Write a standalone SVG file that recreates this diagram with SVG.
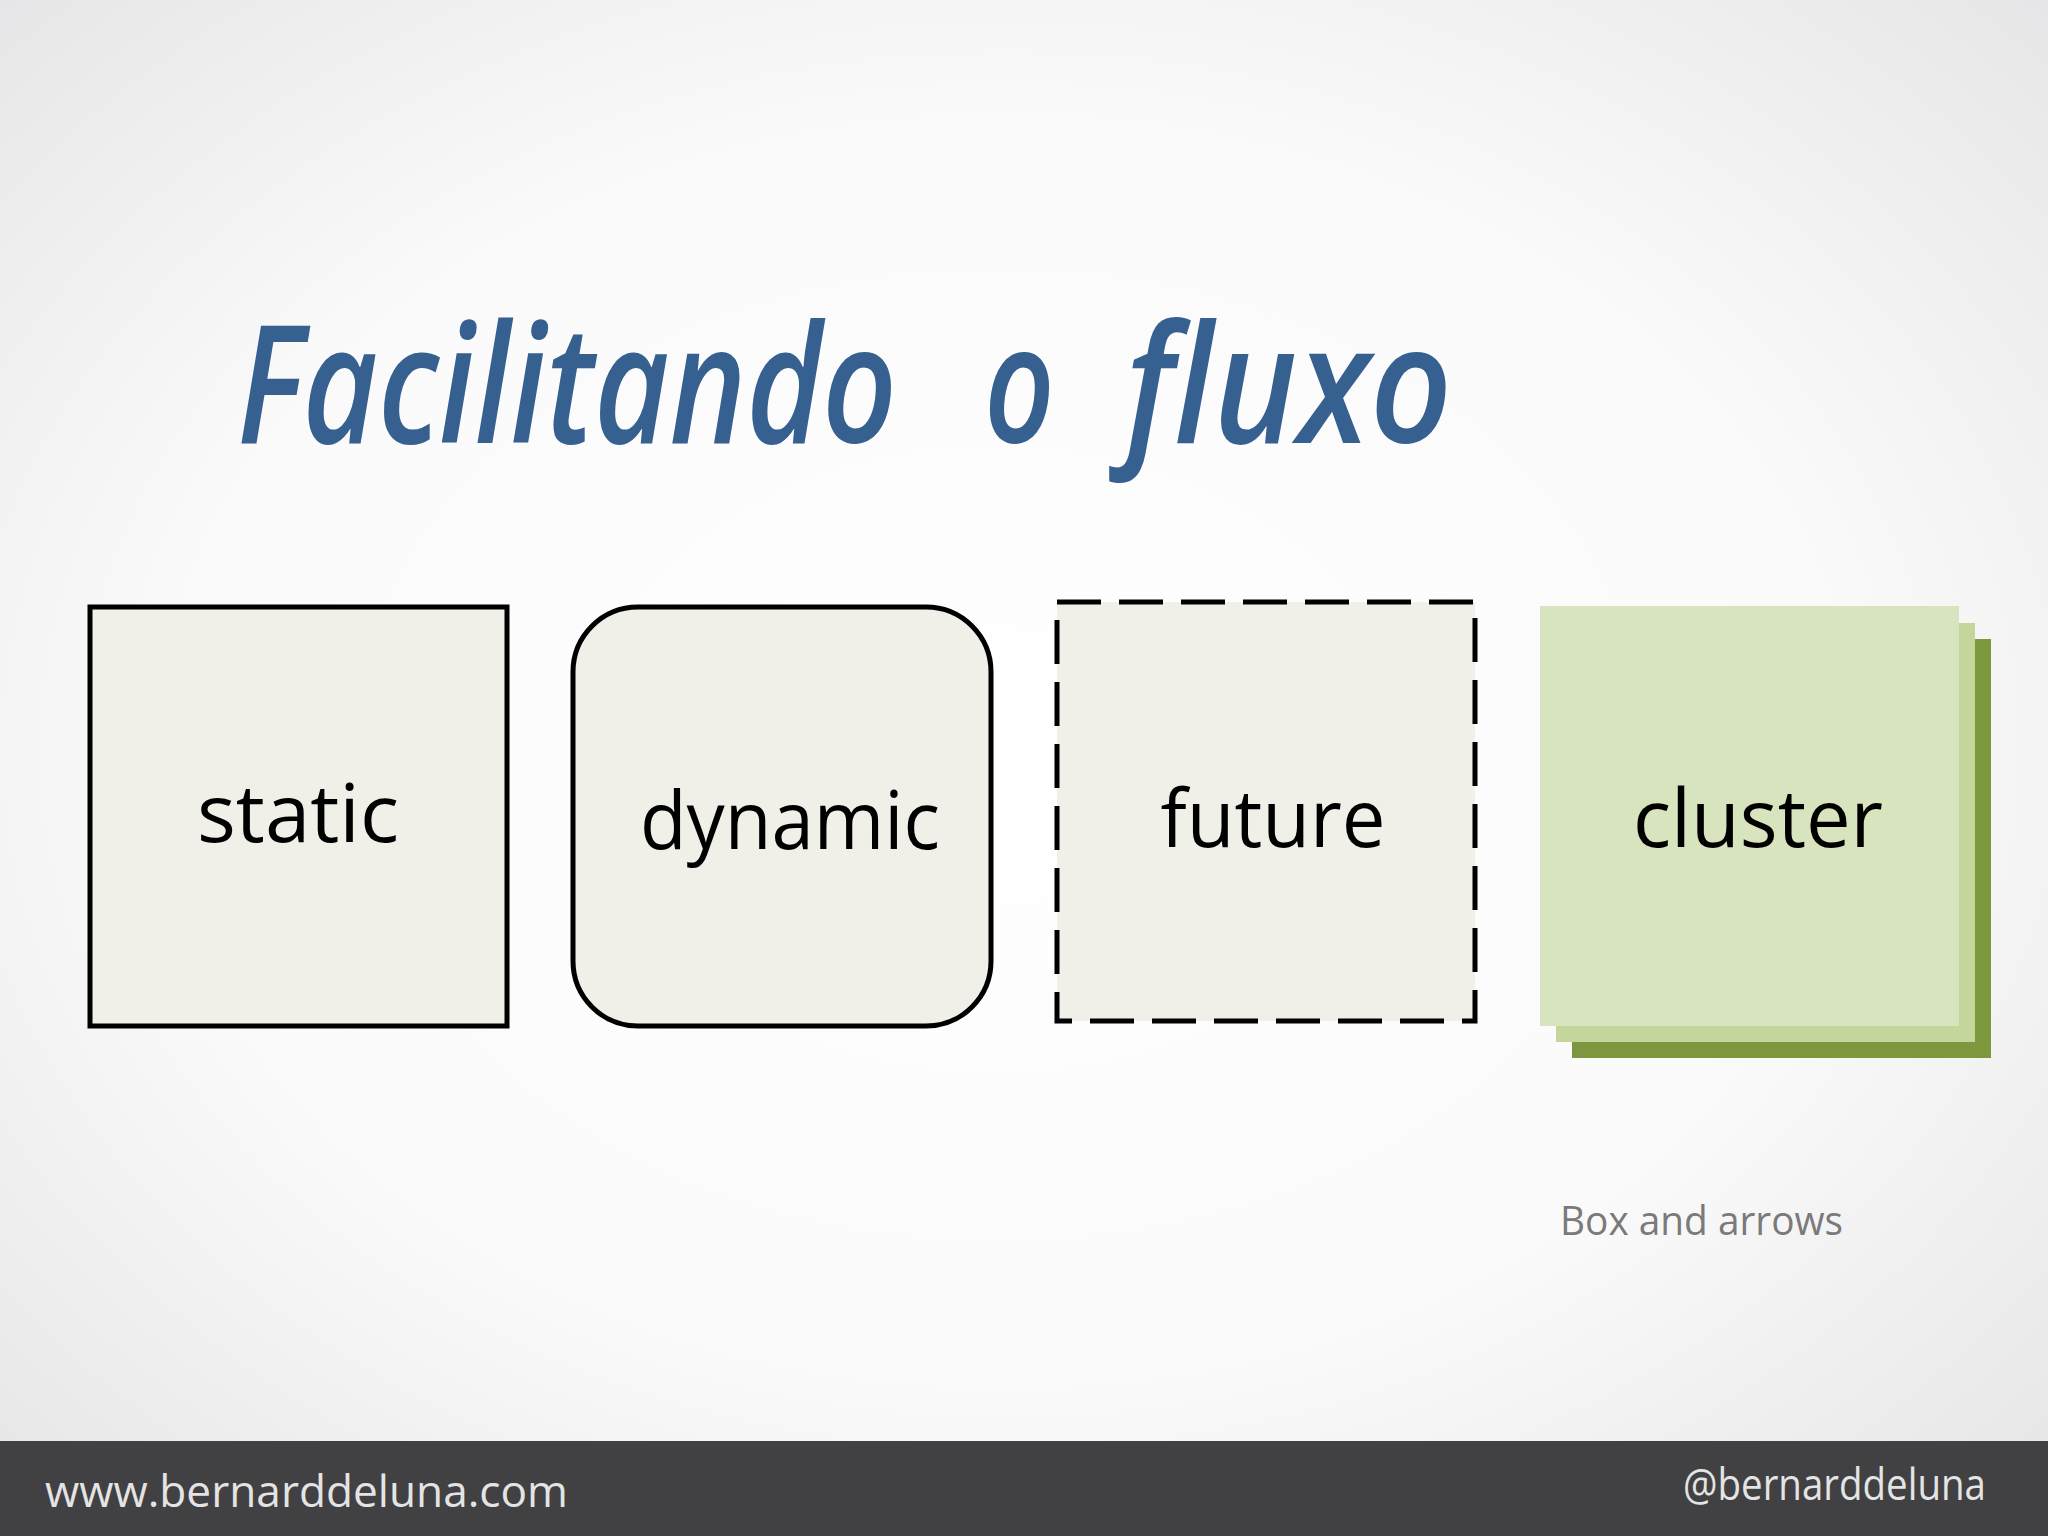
<svg xmlns="http://www.w3.org/2000/svg" width="2048" height="1536" viewBox="0 0 2048 1536">
  <defs>
    <radialGradient id="bg" cx="50%" cy="48%" r="75%" fx="48%" fy="50%">
      <stop offset="0" stop-color="#ffffff"/>
      <stop offset="0.55" stop-color="#fafafa"/>
      <stop offset="1" stop-color="#e2e2e4"/>
    </radialGradient>
    <style>
      .box { fill: #f0efe8; stroke: #000000; stroke-width: 5; }
      .dash { stroke-dasharray: 44 18; }
      .label { font-family: "Open Sans", "Noto Sans", "Liberation Sans", sans-serif; font-size: 80px; fill: #000000; text-anchor: middle; }
      .title { font-family: "Open Sans", "DejaVu Sans", sans-serif; font-style: italic; font-size: 165px; font-weight: 600; fill: #36608f; }
      .foot { font-family: "Open Sans", "Noto Sans", "Liberation Sans", sans-serif; font-size: 44px; fill: #e4e4e4; }
      .sub { font-family: "Open Sans", "Noto Sans", "Liberation Sans", sans-serif; font-size: 40px; fill: #7a7a7a; }
    </style>
  </defs>

  <rect x="0" y="0" width="2048" height="1536" fill="url(#bg)"/>

  <g id="title">
    <text class="title" transform="translate(237,443) scale(0.8,1)">
      <tspan x="0" y="0" textLength="825" lengthAdjust="spacingAndGlyphs">Facilitando</tspan>
      <tspan x="934" y="0" textLength="88" lengthAdjust="spacingAndGlyphs">o</tspan>
      <tspan x="1110" y="0" textLength="409" lengthAdjust="spacingAndGlyphs">fluxo</tspan>
    </text>
  </g>

  <g id="connectors"></g>

  <g id="node-static">
    <rect class="box" x="90" y="607" width="417" height="419"/>
    <text class="label" x="298" y="842" textLength="202" lengthAdjust="spacingAndGlyphs">static</text>
  </g>

  <g id="node-dynamic">
    <rect class="box" x="573" y="607" width="418" height="419" rx="65" ry="65"/>
    <text class="label" x="790" y="849" textLength="300" lengthAdjust="spacingAndGlyphs">dynamic</text>
  </g>

  <g id="node-future">
    <rect class="box dash" x="1057" y="602" width="418" height="419"/>
    <text class="label" x="1273" y="847" textLength="225" lengthAdjust="spacingAndGlyphs">future</text>
  </g>

  <g id="node-cluster">
    <rect x="1572" y="639" width="419" height="419" fill="#7d973e"/>
    <rect x="1556" y="623" width="419" height="419" fill="#c4d69b"/>
    <rect x="1540" y="606" width="419" height="420" fill="#d8e4bd"/>
    <text class="label" x="1758" y="847" textLength="250" lengthAdjust="spacingAndGlyphs">cluster</text>
  </g>

  <g id="caption">
    <text class="sub" x="1560" y="1235" textLength="283" lengthAdjust="spacingAndGlyphs">Box and arrows</text>
  </g>

  <g id="footer">
    <rect x="0" y="1441" width="2048" height="95" fill="#414042"/>
    <text class="foot" x="45" y="1507" textLength="523" lengthAdjust="spacingAndGlyphs">www.bernarddeluna.com</text>
    <text class="foot" x="1683" y="1500" textLength="303" lengthAdjust="spacingAndGlyphs">@bernarddeluna</text>
  </g>
</svg>
